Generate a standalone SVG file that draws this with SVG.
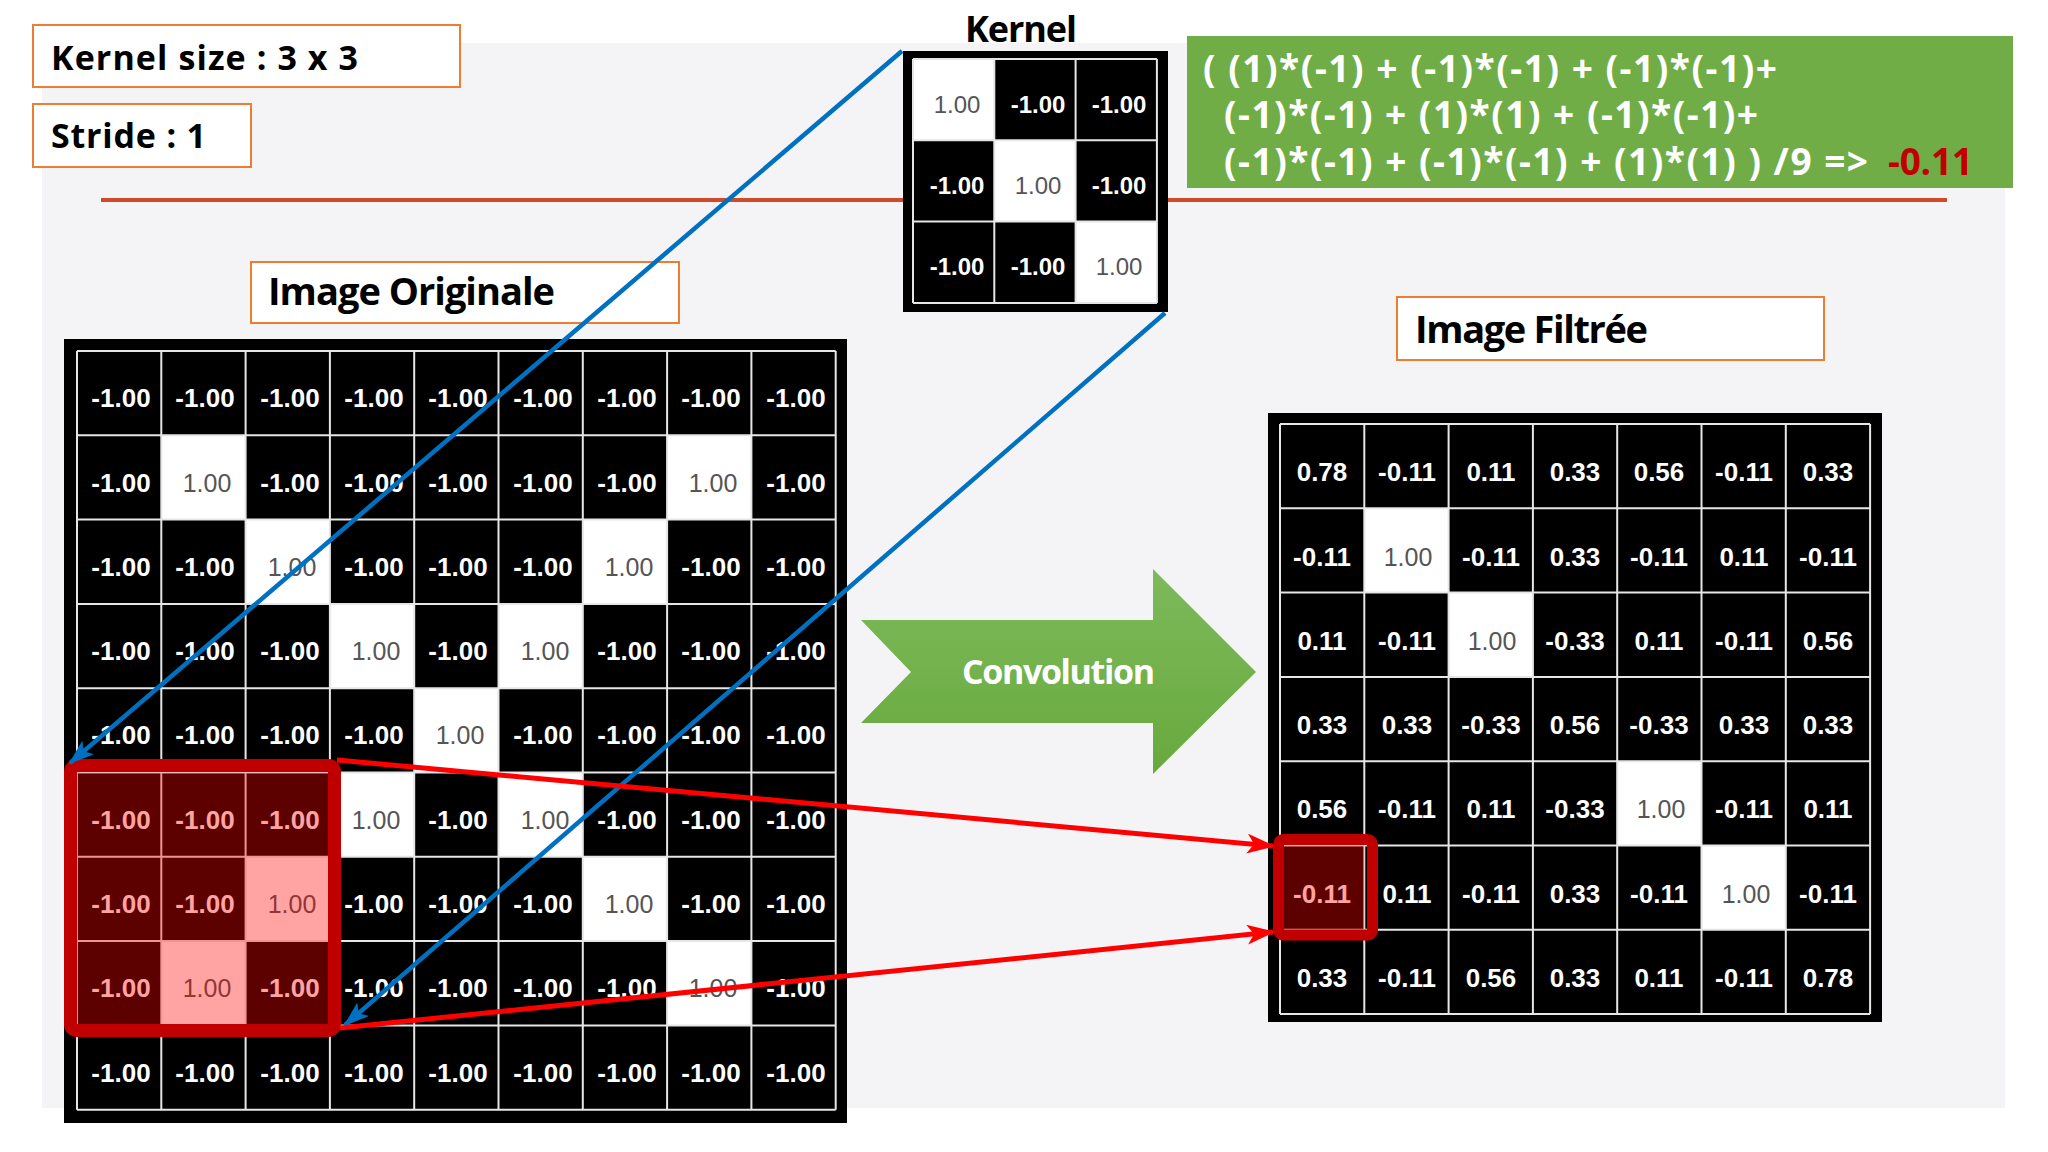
<svg xmlns="http://www.w3.org/2000/svg" width="2048" height="1152" viewBox="0 0 2048 1152">
<defs>
<style>
.lbl{font-family:"Open Sans","Noto Sans",sans-serif;font-weight:700;fill:#000}
.box{fill:#fff;stroke:#ED7D31;stroke-width:2}
.frm{font-family:"Open Sans","Noto Sans",sans-serif;font-weight:700;font-size:37px;fill:#fff}
.n{font-family:"Liberation Sans",Arial,sans-serif;font-weight:700;font-size:26px;fill:#fff;text-anchor:middle}
.p{font-family:"Liberation Sans",Arial,sans-serif;font-size:25px;fill:#555;text-anchor:middle}
.kn{font-size:24px}
.gl{fill:none;stroke:#E6E6E6;stroke-width:2}
.ov{fill:#FF0000;opacity:0.36}
.hl{fill:none;stroke:#C00000}
.blue{stroke:#0070C0;stroke-width:4.5;fill:none}
.red{stroke:#FF0000;stroke-width:5;fill:none}
</style>
<marker id="ab" markerUnits="userSpaceOnUse" markerWidth="26" markerHeight="18" viewBox="0 0 26 18" refX="24" refY="9" orient="auto">
<path d="M0,0 L26,9 L0,18 L6,9 z" fill="#0070C0"/>
</marker>
<marker id="ar" markerUnits="userSpaceOnUse" markerWidth="28" markerHeight="20" viewBox="0 0 28 20" refX="26" refY="10" orient="auto">
<path d="M0,0 L28,10 L0,20 L7,10 z" fill="#FF0000"/>
</marker>
<linearGradient id="gg" x1="0" y1="0" x2="0" y2="1">
<stop offset="0" stop-color="#7DBA5B"/>
<stop offset="1" stop-color="#68A93D"/>
</linearGradient>
</defs>
<rect x="0" y="0" width="2048" height="1152" fill="#fff"/>
<rect x="42" y="43" width="1963" height="1065" fill="#F4F4F6"/>
<line x1="101" y1="200" x2="1947" y2="200" stroke="#D04A2A" stroke-width="4"/>

<g id="label-kernel-size">
<rect class="box" x="33" y="25" width="427" height="62"/>
<text class="lbl" x="51" y="70" font-size="34" textLength="307">Kernel size : 3 x 3</text>
</g>
<g id="label-stride">
<rect class="box" x="33" y="104" width="218" height="63"/>
<text class="lbl" x="51" y="148" font-size="34" textLength="155">Stride : 1</text>
</g>
<g id="label-originale">
<rect class="box" x="251" y="262" width="428" height="61"/>
<text class="lbl" x="268" y="305" font-size="38" textLength="287">Image Originale</text>
</g>
<g id="label-filtree">
<rect class="box" x="1397" y="297" width="427" height="63"/>
<text class="lbl" x="1415" y="343" font-size="38" textLength="233">Image Filtrée</text>
</g>

<g id="formula">
<rect x="1187" y="36" width="826" height="152" fill="#70AD47"/>
<text class="frm" x="1203" y="82" textLength="574">( (1)*(-1) + (-1)*(-1) + (-1)*(-1)+</text>
<text class="frm" x="1224" y="128" textLength="534">(-1)*(-1) + (1)*(1) + (-1)*(-1)+</text>
<text class="frm" x="1224" y="175" textLength="644">(-1)*(-1) + (-1)*(-1) + (1)*(1) ) /9 =&gt;</text>
<text class="frm" x="1888" y="175" textLength="85" style="fill:#C00000">-0.11</text>
</g>

<g id="kernel">
<text class="lbl" x="965" y="42" font-size="36" textLength="112">Kernel</text>
<rect x="903" y="51" width="265" height="261" fill="#000"/>
<rect x="913" y="59" width="244" height="244" fill="#000"/>
<rect x="913" y="59" width="81.3" height="81.3" fill="#fff"/>
<rect x="994.3" y="140.3" width="81.3" height="81.3" fill="#fff"/>
<rect x="1075.6" y="221.6" width="81.3" height="81.3" fill="#fff"/>
<text class="p kn" x="957" y="113">1.00</text>
<text class="n kn" x="1038" y="113">-1.00</text>
<text class="n kn" x="1119" y="113">-1.00</text>
<text class="n kn" x="957" y="194">-1.00</text>
<text class="p kn" x="1038" y="194">1.00</text>
<text class="n kn" x="1119" y="194">-1.00</text>
<text class="n kn" x="957" y="275">-1.00</text>
<text class="n kn" x="1038" y="275">-1.00</text>
<text class="p kn" x="1119" y="275">1.00</text>
<path class="gl" d="M913,59V302.9M994.3,59V302.9M1075.6,59V302.9M1156.9,59V302.9M913,59H1156.9M913,140.3H1156.9M913,221.6H1156.9M913,302.9H1156.9"/>
</g>

<g id="image-originale">
<rect x="64" y="339" width="783" height="784" fill="#000"/>
<rect x="161.3" y="435.3" width="84.3" height="84.3" fill="#fff"/>
<rect x="667.1" y="435.3" width="84.3" height="84.3" fill="#fff"/>
<rect x="245.6" y="519.6" width="84.3" height="84.3" fill="#fff"/>
<rect x="582.8" y="519.6" width="84.3" height="84.3" fill="#fff"/>
<rect x="329.9" y="603.9" width="84.3" height="84.3" fill="#fff"/>
<rect x="498.5" y="603.9" width="84.3" height="84.3" fill="#fff"/>
<rect x="414.2" y="688.2" width="84.3" height="84.3" fill="#fff"/>
<rect x="329.9" y="772.5" width="84.3" height="84.3" fill="#fff"/>
<rect x="498.5" y="772.5" width="84.3" height="84.3" fill="#fff"/>
<rect x="245.6" y="856.8" width="84.3" height="84.3" fill="#fff"/>
<rect x="582.8" y="856.8" width="84.3" height="84.3" fill="#fff"/>
<rect x="161.3" y="941.1" width="84.3" height="84.3" fill="#fff"/>
<rect x="667.1" y="941.1" width="84.3" height="84.3" fill="#fff"/>
<!-- row 0 -->
<text class="n" x="121" y="407">-1.00</text><text class="n" x="205" y="407">-1.00</text><text class="n" x="290" y="407">-1.00</text><text class="n" x="374" y="407">-1.00</text><text class="n" x="458" y="407">-1.00</text><text class="n" x="543" y="407">-1.00</text><text class="n" x="627" y="407">-1.00</text><text class="n" x="711" y="407">-1.00</text><text class="n" x="796" y="407">-1.00</text>
<!-- row 1 -->
<text class="n" x="121" y="492">-1.00</text><text class="p" x="207" y="492">1.00</text><text class="n" x="290" y="492">-1.00</text><text class="n" x="374" y="492">-1.00</text><text class="n" x="458" y="492">-1.00</text><text class="n" x="543" y="492">-1.00</text><text class="n" x="627" y="492">-1.00</text><text class="p" x="713" y="492">1.00</text><text class="n" x="796" y="492">-1.00</text>
<!-- row 2 -->
<text class="n" x="121" y="576">-1.00</text><text class="n" x="205" y="576">-1.00</text><text class="p" x="292" y="576">1.00</text><text class="n" x="374" y="576">-1.00</text><text class="n" x="458" y="576">-1.00</text><text class="n" x="543" y="576">-1.00</text><text class="p" x="629" y="576">1.00</text><text class="n" x="711" y="576">-1.00</text><text class="n" x="796" y="576">-1.00</text>
<!-- row 3 -->
<text class="n" x="121" y="660">-1.00</text><text class="n" x="205" y="660">-1.00</text><text class="n" x="290" y="660">-1.00</text><text class="p" x="376" y="660">1.00</text><text class="n" x="458" y="660">-1.00</text><text class="p" x="545" y="660">1.00</text><text class="n" x="627" y="660">-1.00</text><text class="n" x="711" y="660">-1.00</text><text class="n" x="796" y="660">-1.00</text>
<!-- row 4 -->
<text class="n" x="121" y="744">-1.00</text><text class="n" x="205" y="744">-1.00</text><text class="n" x="290" y="744">-1.00</text><text class="n" x="374" y="744">-1.00</text><text class="p" x="460" y="744">1.00</text><text class="n" x="543" y="744">-1.00</text><text class="n" x="627" y="744">-1.00</text><text class="n" x="711" y="744">-1.00</text><text class="n" x="796" y="744">-1.00</text>
<!-- row 5 -->
<text class="n" x="121" y="829">-1.00</text><text class="n" x="205" y="829">-1.00</text><text class="n" x="290" y="829">-1.00</text><text class="p" x="376" y="829">1.00</text><text class="n" x="458" y="829">-1.00</text><text class="p" x="545" y="829">1.00</text><text class="n" x="627" y="829">-1.00</text><text class="n" x="711" y="829">-1.00</text><text class="n" x="796" y="829">-1.00</text>
<!-- row 6 -->
<text class="n" x="121" y="913">-1.00</text><text class="n" x="205" y="913">-1.00</text><text class="p" x="292" y="913">1.00</text><text class="n" x="374" y="913">-1.00</text><text class="n" x="458" y="913">-1.00</text><text class="n" x="543" y="913">-1.00</text><text class="p" x="629" y="913">1.00</text><text class="n" x="711" y="913">-1.00</text><text class="n" x="796" y="913">-1.00</text>
<!-- row 7 -->
<text class="n" x="121" y="997">-1.00</text><text class="p" x="207" y="997">1.00</text><text class="n" x="290" y="997">-1.00</text><text class="n" x="374" y="997">-1.00</text><text class="n" x="458" y="997">-1.00</text><text class="n" x="543" y="997">-1.00</text><text class="n" x="627" y="997">-1.00</text><text class="p" x="713" y="997">1.00</text><text class="n" x="796" y="997">-1.00</text>
<!-- row 8 -->
<text class="n" x="121" y="1082">-1.00</text><text class="n" x="205" y="1082">-1.00</text><text class="n" x="290" y="1082">-1.00</text><text class="n" x="374" y="1082">-1.00</text><text class="n" x="458" y="1082">-1.00</text><text class="n" x="543" y="1082">-1.00</text><text class="n" x="627" y="1082">-1.00</text><text class="n" x="711" y="1082">-1.00</text><text class="n" x="796" y="1082">-1.00</text>
<path class="gl" d="M77,351V1109.7M161.3,351V1109.7M245.6,351V1109.7M329.9,351V1109.7M414.2,351V1109.7M498.5,351V1109.7M582.8,351V1109.7M667.1,351V1109.7M751.4,351V1109.7M835.7,351V1109.7M77,351H835.7M77,435.3H835.7M77,519.6H835.7M77,603.9H835.7M77,688.2H835.7M77,772.5H835.7M77,856.8H835.7M77,941.1H835.7M77,1025.4H835.7M77,1109.7H835.7"/>
<rect class="ov" x="77" y="772.5" width="252.9" height="252.9"/>
<rect class="hl" x="70.5" y="765.5" width="264" height="265" rx="6" stroke-width="13"/>
</g>

<g id="convolution-arrow">
<polygon points="861,620 1153,620 1153,569 1256,672 1153,774 1153,723 861,723 911,672" fill="url(#gg)"/>
<text class="lbl" x="962" y="684" font-size="34" textLength="193" style="fill:#fff">Convolution</text>
</g>

<g id="image-filtree">
<rect x="1268" y="413" width="614" height="609" fill="#000"/>
<rect x="1364.3" y="508.3" width="84.3" height="84.3" fill="#fff"/>
<rect x="1448.6" y="592.6" width="84.3" height="84.3" fill="#fff"/>
<rect x="1617.2" y="761.2" width="84.3" height="84.3" fill="#fff"/>
<rect x="1701.5" y="845.5" width="84.3" height="84.3" fill="#fff"/>
<!-- row 0 -->
<text class="n" x="1322" y="481">0.78</text><text class="n" x="1407" y="481">-0.11</text><text class="n" x="1491" y="481">0.11</text><text class="n" x="1575" y="481">0.33</text><text class="n" x="1659" y="481">0.56</text><text class="n" x="1744" y="481">-0.11</text><text class="n" x="1828" y="481">0.33</text>
<!-- row 1 -->
<text class="n" x="1322" y="566">-0.11</text><text class="p" x="1408" y="566">1.00</text><text class="n" x="1491" y="566">-0.11</text><text class="n" x="1575" y="566">0.33</text><text class="n" x="1659" y="566">-0.11</text><text class="n" x="1744" y="566">0.11</text><text class="n" x="1828" y="566">-0.11</text>
<!-- row 2 -->
<text class="n" x="1322" y="650">0.11</text><text class="n" x="1407" y="650">-0.11</text><text class="p" x="1492" y="650">1.00</text><text class="n" x="1575" y="650">-0.33</text><text class="n" x="1659" y="650">0.11</text><text class="n" x="1744" y="650">-0.11</text><text class="n" x="1828" y="650">0.56</text>
<!-- row 3 -->
<text class="n" x="1322" y="734">0.33</text><text class="n" x="1407" y="734">0.33</text><text class="n" x="1491" y="734">-0.33</text><text class="n" x="1575" y="734">0.56</text><text class="n" x="1659" y="734">-0.33</text><text class="n" x="1744" y="734">0.33</text><text class="n" x="1828" y="734">0.33</text>
<!-- row 4 -->
<text class="n" x="1322" y="818">0.56</text><text class="n" x="1407" y="818">-0.11</text><text class="n" x="1491" y="818">0.11</text><text class="n" x="1575" y="818">-0.33</text><text class="p" x="1661" y="818">1.00</text><text class="n" x="1744" y="818">-0.11</text><text class="n" x="1828" y="818">0.11</text>
<!-- row 5 -->
<text class="n" x="1322" y="903">-0.11</text><text class="n" x="1407" y="903">0.11</text><text class="n" x="1491" y="903">-0.11</text><text class="n" x="1575" y="903">0.33</text><text class="n" x="1659" y="903">-0.11</text><text class="p" x="1746" y="903">1.00</text><text class="n" x="1828" y="903">-0.11</text>
<!-- row 6 -->
<text class="n" x="1322" y="987">0.33</text><text class="n" x="1407" y="987">-0.11</text><text class="n" x="1491" y="987">0.56</text><text class="n" x="1575" y="987">0.33</text><text class="n" x="1659" y="987">0.11</text><text class="n" x="1744" y="987">-0.11</text><text class="n" x="1828" y="987">0.78</text>
<path class="gl" d="M1280,424V1014.1M1364.3,424V1014.1M1448.6,424V1014.1M1532.9,424V1014.1M1617.2,424V1014.1M1701.5,424V1014.1M1785.8,424V1014.1M1870.1,424V1014.1M1280,424H1870.1M1280,508.3H1870.1M1280,592.6H1870.1M1280,676.9H1870.1M1280,761.2H1870.1M1280,845.5H1870.1M1280,929.8H1870.1M1280,1014.1H1870.1"/>
<rect class="ov" x="1280" y="845.5" width="84.3" height="84.3"/>
<rect class="hl" x="1278.5" y="839.5" width="94" height="95.5" rx="5" stroke-width="11"/>
</g>

<g id="connectors">
<line class="blue" x1="902" y1="51" x2="70" y2="763" marker-end="url(#ab)"/>
<line class="blue" x1="1165" y1="313" x2="345" y2="1025" marker-end="url(#ab)"/>
<line class="red" x1="337" y1="760" x2="1273" y2="846" marker-end="url(#ar)"/>
<line class="red" x1="340" y1="1028" x2="1273" y2="932" marker-end="url(#ar)"/>
</g>
</svg>
